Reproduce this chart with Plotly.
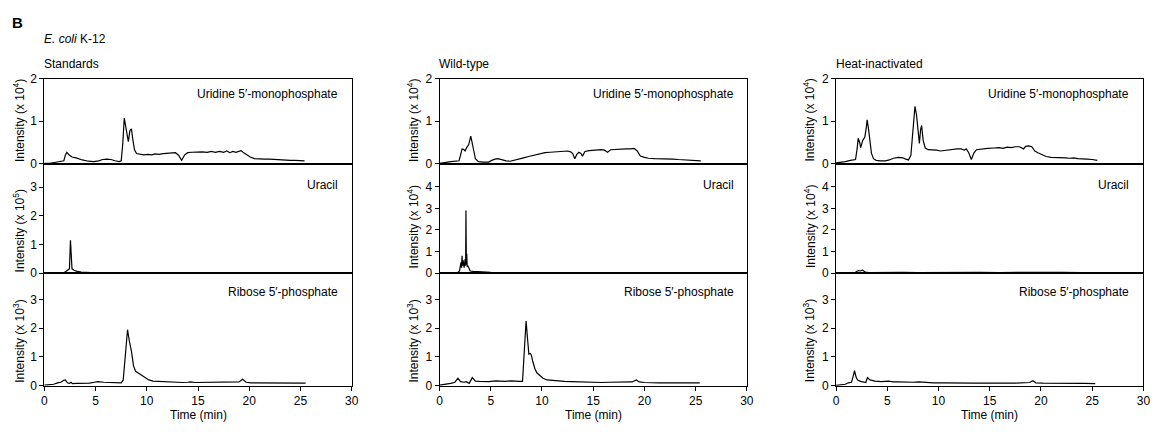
import plotly.graph_objects as go

W, H = 1165, 434

# ---------------- data (time in min, intensity in axis units) ----------------
std_ump = [(0,0.01),(0.5,0.01),(1.0,0.03),(1.5,0.05),(1.9,0.07),(2.05,0.2),(2.2,0.27),(2.4,0.21),
           (2.7,0.16),(3.1,0.14),(3.7,0.09),(4.3,0.06),(4.8,0.05),(5.3,0.07),(5.7,0.1),(6.1,0.11),
           (6.5,0.1),(6.9,0.07),(7.3,0.05),(7.5,0.07),(7.65,0.45),(7.8,1.07),(7.95,0.85),(8.1,0.62),
           (8.2,0.52),(8.35,0.78),(8.5,0.82),(8.65,0.55),(8.8,0.33),(9.0,0.24),(9.3,0.22),(9.7,0.21),
           (10.1,0.22),(10.5,0.21),(10.8,0.23),(11.2,0.22),(11.6,0.24),(12.0,0.25),(12.4,0.26),
           (12.8,0.26),(13.1,0.2),(13.4,0.08),(13.7,0.21),(14.0,0.26),(14.4,0.27),(14.9,0.28),
           (15.4,0.28),(15.9,0.27),(16.3,0.29),(16.7,0.27),(17.1,0.29),(17.5,0.27),(17.8,0.3),
           (18.1,0.26),(18.4,0.29),(18.7,0.27),(19.0,0.3),(19.2,0.31),(19.5,0.25),(19.8,0.2),
           (20.1,0.16),(20.5,0.12),(21.0,0.11),(21.5,0.11),(22.0,0.11),(22.5,0.1),(23.0,0.09),
           (23.5,0.09),(24.0,0.08),(24.5,0.08),(25.0,0.07),(25.4,0.07)]

std_ura = [(0,0.0),(1.5,0.0),(1.9,0.01),(2.1,0.06),(2.3,0.1),(2.45,0.15),(2.55,1.15),(2.62,0.3),
           (2.7,0.15),(2.9,0.1),(3.2,0.06),(3.6,0.04),(4.2,0.02),(5.0,0.01),(6.0,0.01),(7.6,0.005)]

std_r5p = [(0,0.02),(0.5,0.03),(0.9,0.05),(1.3,0.1),(1.6,0.12),(1.9,0.19),(2.05,0.2),(2.25,0.1),
           (2.45,0.08),(2.6,0.12),(2.75,0.07),(3.2,0.08),(3.8,0.08),(4.4,0.09),(4.9,0.12),(5.2,0.14),
           (5.8,0.12),(6.4,0.11),(7.0,0.1),(7.5,0.1),(7.7,0.2),(7.85,0.9),(8.0,1.7),(8.12,1.95),
           (8.3,1.55),(8.5,1.2),(8.7,0.7),(8.9,0.5),(9.2,0.43),(9.5,0.36),(9.8,0.3),(10.2,0.2),
           (10.6,0.16),(11.0,0.15),(11.5,0.14),(12.0,0.14),(12.5,0.12),(13.0,0.12),(13.5,0.11),
           (14.0,0.12),(14.3,0.13),(14.7,0.11),(15.3,0.11),(16.0,0.11),(16.7,0.11),(17.4,0.11),
           (18.0,0.11),(18.6,0.11),(19.0,0.13),(19.35,0.22),(19.7,0.12),(20.2,0.1),(20.8,0.1),
           (21.5,0.1),(22.0,0.09),(22.5,0.1),(23.0,0.09),(23.5,0.11),(24.0,0.09),(24.5,0.1),
           (25.0,0.09),(25.5,0.09)]

wt_ump = [(0,0.01),(0.5,0.02),(0.8,0.04),(1.1,0.05),(1.5,0.06),(1.9,0.07),(2.05,0.2),(2.2,0.35),
          (2.35,0.34),(2.5,0.3),(2.65,0.38),(2.85,0.45),(3.05,0.65),(3.2,0.5),(3.35,0.3),(3.5,0.12),
          (3.8,0.05),(4.3,0.04),(4.8,0.04),(5.1,0.08),(5.4,0.11),(5.7,0.12),(6.1,0.09),(6.5,0.07),
          (6.9,0.06),(7.3,0.08),(7.7,0.11),(8.2,0.14),(8.7,0.17),(9.1,0.19),(9.4,0.21),(9.8,0.24),
          (10.3,0.26),(10.8,0.27),(11.3,0.28),(11.8,0.28),(12.2,0.29),(12.5,0.3),(12.8,0.28),
          (13.0,0.24),(13.2,0.12),(13.4,0.22),(13.6,0.27),(13.8,0.24),(13.95,0.18),(14.2,0.29),
          (14.6,0.31),(15.0,0.32),(15.4,0.33),(15.8,0.33),(16.1,0.32),(16.4,0.27),(16.7,0.33),
          (17.2,0.34),(17.7,0.34),(18.2,0.35),(18.7,0.35),(19.0,0.36),(19.3,0.3),(19.6,0.18),
          (20.0,0.15),(20.4,0.13),(21.0,0.12),(21.6,0.12),(22.2,0.11),(22.8,0.11),(23.3,0.1),
          (23.8,0.09),(24.3,0.08),(24.9,0.07),(25.5,0.07)]

wt_ura = [(0,0.0),(1.7,0.0),(1.95,0.1),(2.1,0.5),(2.15,0.25),(2.2,0.8),(2.25,0.35),(2.3,0.6),
          (2.4,0.25),(2.5,0.65),(2.55,0.35),(2.58,2.9),(2.62,0.4),(2.66,0.9),(2.7,0.3),(2.75,0.35),
          (2.9,0.2),(3.0,0.1),(3.3,0.08),(3.6,0.07),(4.0,0.05),(5.0,0.04),(6.0,0.03),(8.0,0.03),
          (10.0,0.03),(13.0,0.03),(16.0,0.03),(19.0,0.03),(22.0,0.03),(25.4,0.03)]

wt_r5p = [(0,0.02),(0.6,0.04),(1.1,0.08),(1.5,0.12),(1.8,0.26),(2.05,0.14),(2.4,0.12),(2.6,0.14),
          (2.9,0.08),(3.2,0.28),(3.5,0.16),(3.9,0.15),(4.2,0.15),(4.8,0.14),(5.5,0.17),(6.0,0.16),
          (6.4,0.15),(7.0,0.17),(7.4,0.15),(7.8,0.15),(8.1,0.15),(8.25,0.9),(8.45,2.25),(8.6,1.6),
          (8.72,1.1),(8.85,1.12),(8.95,1.08),(9.1,0.85),(9.3,0.6),(9.5,0.45),(9.8,0.34),(10.1,0.26),
          (10.5,0.2),(11.0,0.18),(11.6,0.17),(12.2,0.15),(12.9,0.14),(13.5,0.13),(14.2,0.12),
          (15.0,0.11),(15.8,0.11),(16.6,0.12),(17.4,0.12),(18.2,0.12),(18.8,0.13),(19.2,0.2),
          (19.5,0.13),(20.0,0.11),(20.6,0.1),(21.4,0.1),(22.2,0.1),(23.0,0.1),(23.8,0.11),
          (24.5,0.1),(25.0,0.1),(25.4,0.1)]

hi_ump = [(0,0.02),(0.5,0.03),(0.9,0.05),(1.4,0.08),(1.9,0.1),(2.05,0.35),(2.16,0.6),(2.3,0.5),
          (2.4,0.38),(2.6,0.55),(2.8,0.62),(2.95,0.85),(3.03,1.03),(3.15,0.85),(3.3,0.5),(3.45,0.25),
          (3.65,0.12),(3.9,0.08),(4.3,0.07),(4.8,0.07),(5.2,0.09),(5.6,0.13),(6.1,0.15),(6.5,0.14),
          (6.8,0.11),(7.06,0.09),(7.3,0.2),(7.5,0.8),(7.7,1.35),(7.85,1.15),(8.0,0.85),(8.13,0.48),
          (8.25,0.8),(8.35,0.9),(8.5,0.55),(8.7,0.37),(9.0,0.33),(9.4,0.33),(9.8,0.32),(10.2,0.3),
          (10.5,0.31),(10.9,0.33),(11.3,0.33),(11.8,0.35),(12.2,0.35),(12.5,0.32),(12.7,0.35),
          (12.95,0.26),(13.2,0.1),(13.45,0.25),(13.7,0.33),(14.2,0.35),(14.8,0.36),(15.4,0.37),
          (15.9,0.38),(16.3,0.36),(16.7,0.39),(17.1,0.38),(17.5,0.4),(17.9,0.4),(18.3,0.35),
          (18.5,0.41),(18.8,0.42),(19.1,0.4),(19.4,0.3),(19.7,0.26),(20.0,0.22),(20.5,0.17),
          (21.0,0.15),(21.5,0.15),(22.0,0.15),(22.4,0.14),(22.8,0.13),(23.2,0.14),(23.6,0.12),
          (24.0,0.12),(24.5,0.11),(25.0,0.1),(25.5,0.08)]

hi_ura = [(0,0.0),(1.8,0.01),(2.0,0.08),(2.2,0.12),(2.4,0.1),(2.55,0.15),(2.7,0.1),(2.85,0.05),
          (3.2,0.03),(4.0,0.04),(5.0,0.03),(6.5,0.04),(8.0,0.03),(10.0,0.04),(12.0,0.03),
          (14.0,0.04),(16.0,0.03),(18.0,0.04),(20.0,0.03),(22.0,0.04),(24.0,0.03),(25.5,0.03)]

hi_r5p = [(0,0.01),(0.6,0.02),(0.9,0.05),(1.2,0.1),(1.5,0.12),(1.65,0.3),(1.8,0.52),(1.95,0.3),
          (2.1,0.2),(2.4,0.15),(2.7,0.12),(2.9,0.11),(3.06,0.28),(3.3,0.2),(3.8,0.16),(4.4,0.14),
          (5.1,0.16),(5.6,0.13),(6.1,0.13),(6.8,0.12),(7.5,0.12),(8.1,0.13),(8.8,0.11),(9.5,0.1),
          (10.5,0.1),(11.5,0.09),(12.5,0.09),(13.5,0.09),(14.5,0.09),(15.5,0.08),(16.5,0.09),
          (17.5,0.09),(18.3,0.1),(18.9,0.11),(19.2,0.17),(19.5,0.1),(20.2,0.09),(21.0,0.09),
          (21.8,0.1),(22.5,0.09),(23.3,0.08),(24.2,0.08),(25.3,0.07)]

column_titles = ["Standards", "Wild-type", "Heat-inactivated"]
compounds = ["Uridine 5\u2032-monophosphate", "Uracil", "Ribose 5\u2032-phosphate"]
exponents = [["4", "5", "3"], ["4", "4", "3"], ["4", "4", "3"]]
series = [[std_ump, std_ura, std_r5p], [wt_ump, wt_ura, wt_r5p], [hi_ump, hi_ura, hi_r5p]]
y_ranges = [[[0, 2], [0, 3.82], [0, 3.92]],
            [[0, 2], [0, 5.07], [0, 3.92]],
            [[0, 2], [0, 5.07], [0, 3.92]]]
y_ticks = [[[0, 1, 2], [0, 1, 2, 3], [0, 1, 2, 3]],
           [[0, 1, 2], [0, 1, 2, 3, 4], [0, 1, 2, 3]],
           [[0, 1, 2], [0, 1, 2, 3, 4], [0, 1, 2, 3]]]
x_ticks = [0, 5, 10, 15, 20, 25, 30]

# ---------------- layout geometry (pixels) ----------------
col_px = [(41.7, 351.7), (440.3, 750.3), (840.3, 1150.3)]
row_px = [(74, 162), (162, 275), (275, 391.3)]
ytitle_x = [16, 413.3, 813.3]
ytitle_y = [[117, 231, 345], [117, 227, 345], [117, 227, 345]]
label_y = [90, 184, 295]
label_right_gap = [11.5, 10.5, 12.5]

def px(x):
    return x / W

def py(y):
    return 1 - y / H

FONT = "Liberation Sans, Arial, Helvetica, sans-serif"

fig = go.Figure()
layout = dict(width=W, height=H, margin=dict(l=0, r=0, t=0, b=0), autosize=False,
              plot_bgcolor="white", paper_bgcolor="white", showlegend=False,
              font=dict(family=FONT, size=12, color="black"))
annotations = []

k = 0
for c in range(3):
    for r in range(3):
        k += 1
        sfx = "" if k == 1 else str(k)
        data = series[c][r]
        fig.add_trace(go.Scatter(x=[p[0] for p in data], y=[p[1] for p in data], mode="lines",
                                 line=dict(color="black", width=1.2), xaxis="x" + sfx, yaxis="y" + sfx,
                                 hoverinfo="skip"))
        bottom = (r == 2)
        layout["xaxis" + sfx] = dict(
            domain=[px(col_px[c][0]), px(col_px[c][1])], anchor="y" + sfx, range=[0, 30],
            showline=True, linecolor="black", linewidth=1, mirror=True, showgrid=False, zeroline=False,
            tickvals=x_ticks if bottom else [], ticks="outside" if bottom else "", ticklen=4,
            tickwidth=1, tickcolor="black", showticklabels=bottom, tickfont=dict(size=12, family=FONT))
        layout["yaxis" + sfx] = dict(
            domain=[py(row_px[r][1]), py(row_px[r][0])], anchor="x" + sfx, range=y_ranges[c][r],
            showline=True, linecolor="black", linewidth=1, mirror=True, showgrid=False, zeroline=False,
            tickvals=y_ticks[c][r], ticks="outside", ticklen=4, tickwidth=1, tickcolor="black",
            tickfont=dict(size=12, family=FONT))
        # compound label
        annotations.append(dict(text=compounds[r], xref="paper", yref="paper",
                                x=px(col_px[c][1] - label_right_gap[c]), y=py(label_y[r]),
                                xanchor="right", yanchor="middle", showarrow=False,
                                font=dict(size=12, family=FONT)))
        # y title
        annotations.append(dict(text="Intensity (x 10<sup>%s</sup>)" % exponents[c][r],
                                xref="paper", yref="paper", x=px(ytitle_x[c]), y=py(ytitle_y[c][r]),
                                xanchor="center", yanchor="middle", textangle=-90, showarrow=False,
                                font=dict(size=12, family=FONT)))
    # column title
    annotations.append(dict(text=column_titles[c], xref="paper", yref="paper",
                            x=px(col_px[c][0] - 2.5), y=py(59), xanchor="left", yanchor="middle",
                            showarrow=False, font=dict(size=12, family=FONT)))
    # x title
    annotations.append(dict(text="Time (min)", xref="paper", yref="paper",
                            x=px((col_px[c][0] + col_px[c][1]) / 2), y=py(421.5),
                            xanchor="center", yanchor="middle", showarrow=False,
                            font=dict(size=12, family=FONT)))

annotations.append(dict(text="<b>B</b>", xref="paper", yref="paper", x=px(7), y=py(16),
                        xanchor="left", yanchor="middle", showarrow=False,
                        font=dict(size=15, family=FONT)))
annotations.append(dict(text="<i>E. coli</i> K-12", xref="paper", yref="paper", x=px(39), y=py(33),
                        xanchor="left", yanchor="middle", showarrow=False,
                        font=dict(size=12, family=FONT)))

layout["annotations"] = annotations
fig.update_layout(**layout)
fig.write_html("out.html", config={"displayModeBar": False, "staticPlot": True},
               post_script="document.body.style.margin='0';document.body.style.padding='0';"
                           "document.body.style.overflow='hidden';")
